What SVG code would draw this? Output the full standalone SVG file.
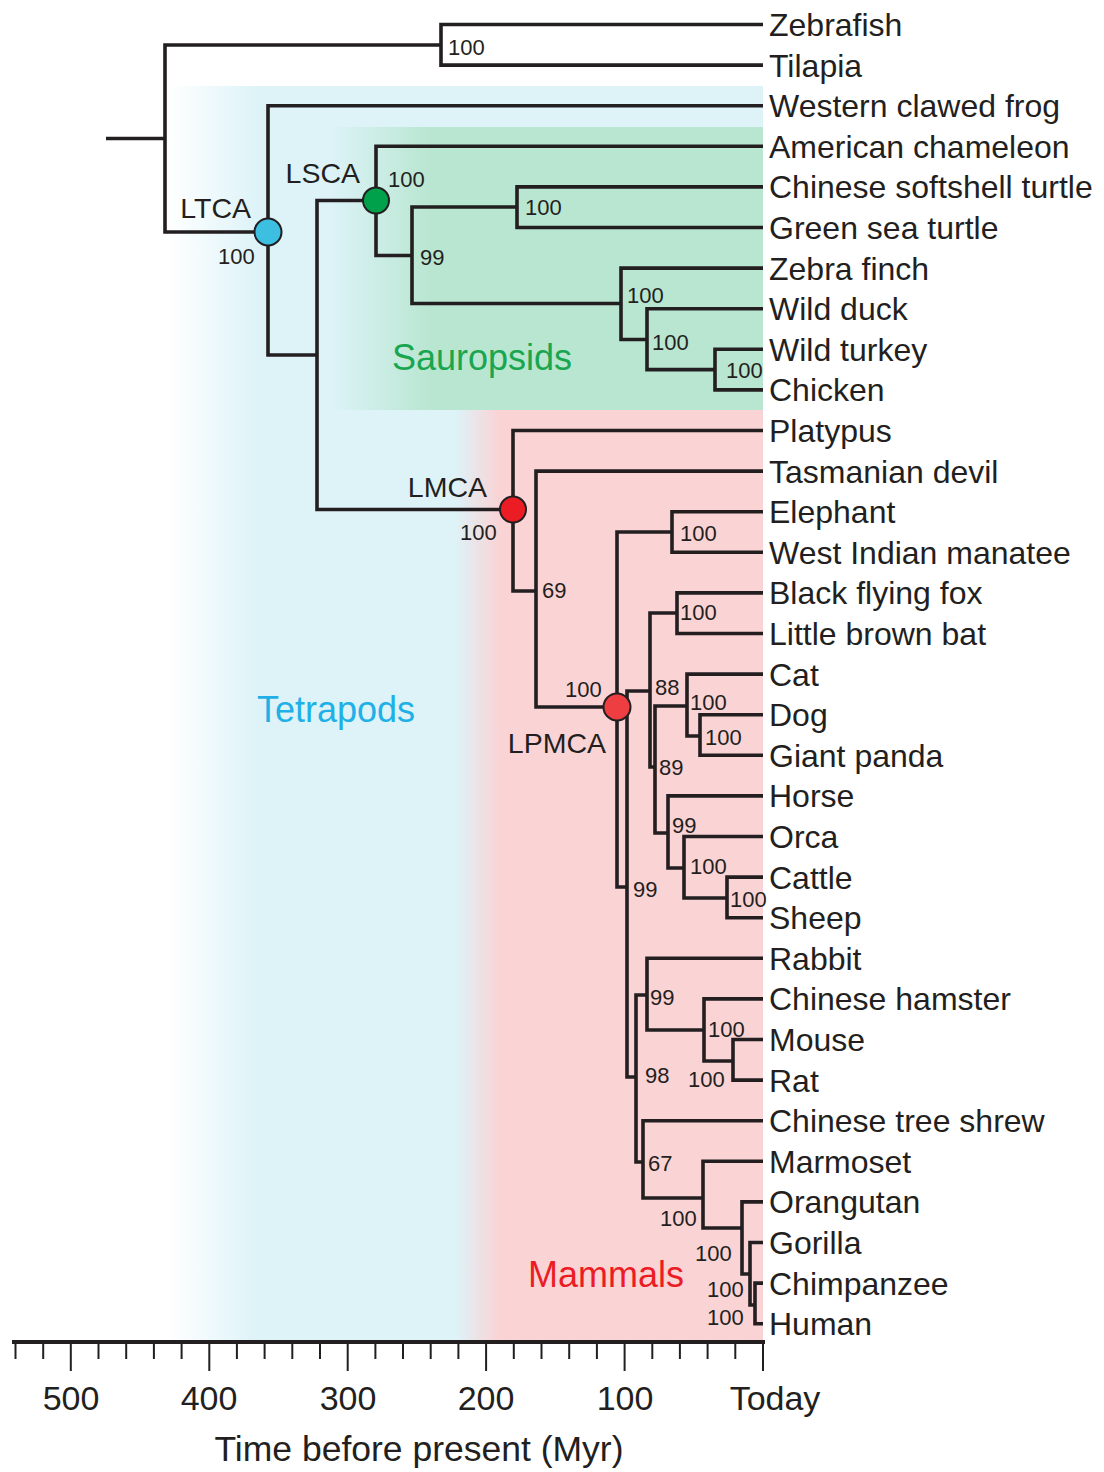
<svg xmlns="http://www.w3.org/2000/svg" width="1104" height="1472" viewBox="0 0 1104 1472">
<style>
.br{fill:none;stroke:#231f20;stroke-width:3.6;stroke-linejoin:miter;stroke-linecap:butt}
.tk{stroke:#231f20;stroke-width:2}
.leaf{font-family:"Liberation Sans",Arial,sans-serif;font-size:32px;fill:#231f20}
.sup{font-family:"Liberation Sans",Arial,sans-serif;font-size:22px;fill:#231f20}
.anc{font-family:"Liberation Sans",Arial,sans-serif;font-size:28.5px;fill:#231f20;text-anchor:end}
.grp{font-family:"Liberation Sans",Arial,sans-serif;font-size:36px}
.ax{font-family:"Liberation Sans",Arial,sans-serif;font-size:34px;fill:#231f20}
.nd{stroke:#231f20;stroke-width:2}
</style>
<defs>
<linearGradient id="gBlue" gradientUnits="userSpaceOnUse" x1="168" y1="0" x2="258" y2="0">
<stop offset="0" stop-color="#ddf3f8" stop-opacity="0"/><stop offset="1" stop-color="#ddf3f8"/></linearGradient>
<linearGradient id="gGreen" gradientUnits="userSpaceOnUse" x1="330" y1="0" x2="430" y2="0">
<stop offset="0" stop-color="#b9e6d1" stop-opacity="0"/><stop offset="1" stop-color="#b9e6d1"/></linearGradient>
<linearGradient id="gPink" gradientUnits="userSpaceOnUse" x1="455" y1="0" x2="500" y2="0">
<stop offset="0" stop-color="#fad3d5" stop-opacity="0"/><stop offset="1" stop-color="#fad3d5"/></linearGradient>
</defs>
<g id="background">
<rect x="165" y="86" width="598" height="1256" fill="url(#gBlue)"/>
<rect x="330" y="127" width="433" height="283" fill="url(#gGreen)"/>
<rect x="450" y="410" width="313" height="932" fill="url(#gPink)"/>
</g>
<g id="group-labels" class="grp">
<text x="257" y="722" fill="#1eb0e6">Tetrapods</text>
<text x="392" y="370" fill="#1aa54f">Sauropsids</text>
<text x="528" y="1287" fill="#ec1c24">Mammals</text>
</g>
<g id="connectors" class="br">
<path d="M106,138.5 H165"/>
<path d="M441,45 H165 V232 H268"/>
<path d="M763,24.5 H441 V65.1 H763"/>
<path d="M763,105.7 H268 V355 H317"/>
<path d="M376,200.5 H317 V509.5 H513"/>
<path d="M763,146.3 H376 V255.5 H412"/>
<path d="M517,207 H412 V303.5 H621"/>
<path d="M763,186.9 H517 V227.5 H763"/>
<path d="M763,268.1 H621 V339.5 H647"/>
<path d="M763,308.7 H647 V369.6 H715"/>
<path d="M763,349.3 H715 V389.9 H763"/>
<path d="M763,430.5 H513 V591 H536"/>
<path d="M763,471.1 H536 V707 H617"/>
<path d="M672,532 H617 V887 H627"/>
<path d="M763,511.7 H672 V552.3 H763"/>
<path d="M650,691 H627 V1077 H636"/>
<path d="M677,613 H650 V767 H655"/>
<path d="M763,592.9 H677 V633.5 H763"/>
<path d="M687,706 H655 V833 H668"/>
<path d="M763,674.1 H687 V736 H700"/>
<path d="M763,714.7 H700 V755.3 H763"/>
<path d="M763,795.9 H668 V868 H684"/>
<path d="M763,836.5 H684 V898 H727"/>
<path d="M763,877.1 H727 V917.7 H763"/>
<path d="M647,995 H636 V1162 H643"/>
<path d="M763,958.3 H647 V1030 H704"/>
<path d="M763,998.9 H704 V1061 H733"/>
<path d="M763,1039.5 H733 V1080.1 H763"/>
<path d="M763,1120.7 H643 V1198 H703"/>
<path d="M763,1161.3 H703 V1228 H742"/>
<path d="M763,1201.9 H742 V1274 H750"/>
<path d="M763,1242.5 H750 V1305 H755"/>
<path d="M763,1283.1 H755 V1323.7 H763"/>
</g>
<g id="node-LTCA"><circle class="nd" cx="268" cy="232" r="13.5" fill="#3cbfe1"/><text class="anc" x="251" y="218">LTCA</text><text class="sup" x="218" y="264">100</text></g>
<g id="node-LSCA"><circle class="nd" cx="376" cy="200.5" r="13" fill="#00a14b"/><text class="anc" x="360" y="183">LSCA</text><text class="sup" x="388" y="187">100</text></g>
<g id="node-LMCA"><circle class="nd" cx="513" cy="509.5" r="13" fill="#ec1c24"/><text class="anc" x="487" y="497">LMCA</text><text class="sup" x="460" y="540">100</text></g>
<g id="node-LPMCA"><circle class="nd" cx="617" cy="707" r="13.5" fill="#ef3e42"/><text class="anc" x="606" y="753">LPMCA</text><text class="sup" x="565" y="697">100</text></g>
<g id="support" class="sup">
<text x="448" y="55">100</text>
<text x="420" y="265">99</text>
<text x="525" y="215">100</text>
<text x="627" y="303">100</text>
<text x="652" y="350">100</text>
<text x="726" y="378">100</text>
<text x="542" y="598">69</text>
<text x="680" y="541">100</text>
<text x="680" y="620">100</text>
<text x="655" y="695">88</text>
<text x="690" y="710">100</text>
<text x="705" y="745">100</text>
<text x="659" y="775">89</text>
<text x="672" y="833">99</text>
<text x="690" y="874">100</text>
<text x="730" y="907">100</text>
<text x="633" y="897">99</text>
<text x="650" y="1005">99</text>
<text x="708" y="1037">100</text>
<text x="645" y="1083">98</text>
<text x="688" y="1087">100</text>
<text x="648" y="1171">67</text>
<text x="660" y="1226">100</text>
<text x="695" y="1261">100</text>
<text x="707" y="1297">100</text>
<text x="707" y="1325">100</text>
</g>
<g id="leaves" class="leaf">
<g id="leaf-zebrafish"><text x="769" y="36">Zebrafish</text></g>
<g id="leaf-tilapia"><text x="769" y="76.6">Tilapia</text></g>
<g id="leaf-frog"><text x="769" y="117.2">Western clawed frog</text></g>
<g id="leaf-chameleon"><text x="769" y="157.8">American chameleon</text></g>
<g id="leaf-softshell"><text x="769" y="198.4">Chinese softshell turtle</text></g>
<g id="leaf-seaturtle"><text x="769" y="239">Green sea turtle</text></g>
<g id="leaf-zebrafinch"><text x="769" y="279.6">Zebra finch</text></g>
<g id="leaf-duck"><text x="769" y="320.2">Wild duck</text></g>
<g id="leaf-turkey"><text x="769" y="360.8">Wild turkey</text></g>
<g id="leaf-chicken"><text x="769" y="401.4">Chicken</text></g>
<g id="leaf-platypus"><text x="769" y="442">Platypus</text></g>
<g id="leaf-devil"><text x="769" y="482.6">Tasmanian devil</text></g>
<g id="leaf-elephant"><text x="769" y="523.2">Elephant</text></g>
<g id="leaf-manatee"><text x="769" y="563.8">West Indian manatee</text></g>
<g id="leaf-flyingfox"><text x="769" y="604.4">Black flying fox</text></g>
<g id="leaf-bat"><text x="769" y="645">Little brown bat</text></g>
<g id="leaf-cat"><text x="769" y="685.6">Cat</text></g>
<g id="leaf-dog"><text x="769" y="726.2">Dog</text></g>
<g id="leaf-panda"><text x="769" y="766.8">Giant panda</text></g>
<g id="leaf-horse"><text x="769" y="807.4">Horse</text></g>
<g id="leaf-orca"><text x="769" y="848">Orca</text></g>
<g id="leaf-cattle"><text x="769" y="888.6">Cattle</text></g>
<g id="leaf-sheep"><text x="769" y="929.2">Sheep</text></g>
<g id="leaf-rabbit"><text x="769" y="969.8">Rabbit</text></g>
<g id="leaf-hamster"><text x="769" y="1010.4">Chinese hamster</text></g>
<g id="leaf-mouse"><text x="769" y="1051">Mouse</text></g>
<g id="leaf-rat"><text x="769" y="1091.6">Rat</text></g>
<g id="leaf-treeshrew"><text x="769" y="1132.2">Chinese tree shrew</text></g>
<g id="leaf-marmoset"><text x="769" y="1172.8">Marmoset</text></g>
<g id="leaf-orangutan"><text x="769" y="1213.4">Orangutan</text></g>
<g id="leaf-gorilla"><text x="769" y="1254">Gorilla</text></g>
<g id="leaf-chimp"><text x="769" y="1294.6">Chimpanzee</text></g>
<g id="leaf-human"><text x="769" y="1335.2">Human</text></g>
</g>
<g id="axis">
<line x1="12" y1="1342" x2="765" y2="1342" stroke="#231f20" stroke-width="4"/>
<g class="tk">
<line x1="15.5" y1="1342" x2="15.5" y2="1359"/>
<line x1="43.2" y1="1342" x2="43.2" y2="1359"/>
<line x1="70.8" y1="1342" x2="70.8" y2="1371"/>
<line x1="98.5" y1="1342" x2="98.5" y2="1359"/>
<line x1="126.2" y1="1342" x2="126.2" y2="1359"/>
<line x1="153.9" y1="1342" x2="153.9" y2="1359"/>
<line x1="181.6" y1="1342" x2="181.6" y2="1359"/>
<line x1="209.3" y1="1342" x2="209.3" y2="1371"/>
<line x1="236.9" y1="1342" x2="236.9" y2="1359"/>
<line x1="264.6" y1="1342" x2="264.6" y2="1359"/>
<line x1="292.3" y1="1342" x2="292.3" y2="1359"/>
<line x1="320" y1="1342" x2="320" y2="1359"/>
<line x1="347.7" y1="1342" x2="347.7" y2="1371"/>
<line x1="375.4" y1="1342" x2="375.4" y2="1359"/>
<line x1="403" y1="1342" x2="403" y2="1359"/>
<line x1="430.7" y1="1342" x2="430.7" y2="1359"/>
<line x1="458.4" y1="1342" x2="458.4" y2="1359"/>
<line x1="486.1" y1="1342" x2="486.1" y2="1371"/>
<line x1="513.8" y1="1342" x2="513.8" y2="1359"/>
<line x1="541.5" y1="1342" x2="541.5" y2="1359"/>
<line x1="569.2" y1="1342" x2="569.2" y2="1359"/>
<line x1="596.9" y1="1342" x2="596.9" y2="1359"/>
<line x1="624.6" y1="1342" x2="624.6" y2="1371"/>
<line x1="652.3" y1="1342" x2="652.3" y2="1359"/>
<line x1="679.9" y1="1342" x2="679.9" y2="1359"/>
<line x1="707.6" y1="1342" x2="707.6" y2="1359"/>
<line x1="735.3" y1="1342" x2="735.3" y2="1359"/>
<line x1="763" y1="1342" x2="763" y2="1371"/>
</g>
<g class="ax" text-anchor="middle">
<text x="71" y="1410">500</text>
<text x="209" y="1410">400</text>
<text x="348" y="1410">300</text>
<text x="486" y="1410">200</text>
<text x="625" y="1410">100</text>
<text x="775" y="1410">Today</text>
<text x="419" y="1461" font-size="35.5">Time before present (Myr)</text>
</g>
</g>
</svg>
